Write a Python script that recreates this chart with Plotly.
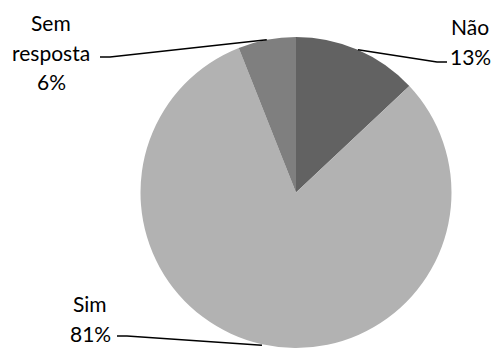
import math
import plotly.graph_objects as go

# Survey answers
categories = ["Não", "Sim", "Sem resposta"]
shares = [13, 81, 6]
slice_colors = ["#626262", "#b2b2b2", "#7f7f7f"]
label_lines = [["Não", "13%"], ["Sim", "81%"], ["Sem", "resposta", "6%"]]

W, H = 496, 348
# pie geometry (pixels)
dom_left, dom_right, dom_top = 140, 452, 37
radius = (dom_right - dom_left) / 2
cx = (dom_left + dom_right) / 2
cy = dom_top + radius

# label placement: text centre x, first baseline, elbow point, end of leader
label_layout = {
    "Não": dict(tx=470, base=33, elbow=(437, 62), end=(447, 62)),
    "Sim": dict(tx=90, base=310, elbow=(127, 336), end=(117, 336)),
    "Sem resposta": dict(tx=51, base=29, elbow=(110, 57), end=(100, 57)),
}
line_pitch = 29.5
font_size = 21


def px(x, y):
    return x / W, 1 - y / H


fig = go.Figure(
    go.Pie(
        labels=categories,
        values=shares,
        sort=False,
        direction="clockwise",
        rotation=0,
        marker=dict(colors=slice_colors, line=dict(width=0)),
        textinfo="none",
        hoverinfo="label+percent",
        showlegend=False,
        domain=dict(x=[dom_left / W, dom_right / W], y=[0, 1 - dom_top / H]),
    )
)

total = sum(shares)
cum = 0
annotations, shapes = [], []
for cat, val, lines in zip(categories, shares, label_lines):
    mid = (cum + val / 2) / total * 2 * math.pi
    cum += val
    ex = cx + radius * math.sin(mid)
    ey = cy - radius * math.cos(mid)
    lay = label_layout[cat]
    p0 = px(ex, ey)
    p1 = px(*lay["elbow"])
    p2 = px(*lay["end"])
    shapes.append(
        dict(
            type="path",
            xref="paper",
            yref="paper",
            path=f"M {p0[0]},{p0[1]} L {p1[0]},{p1[1]} L {p2[0]},{p2[1]}",
            line=dict(color="black", width=1.5),
        )
    )
    for i, line in enumerate(lines):
        tx, ty = px(lay["tx"], lay["base"] + i * line_pitch - 0.3 * font_size)
        annotations.append(
            dict(
                x=tx,
                y=ty,
                xref="paper",
                yref="paper",
                xanchor="center",
                yanchor="middle",
                text=line,
                showarrow=False,
                font=dict(family="Lato", size=font_size, color="black"),
            )
        )

fig.update_layout(
    width=W,
    height=H,
    margin=dict(l=0, r=0, t=0, b=0),
    paper_bgcolor="white",
    plot_bgcolor="white",
    annotations=annotations,
    shapes=shapes,
)

fig.write_html("out.html")
